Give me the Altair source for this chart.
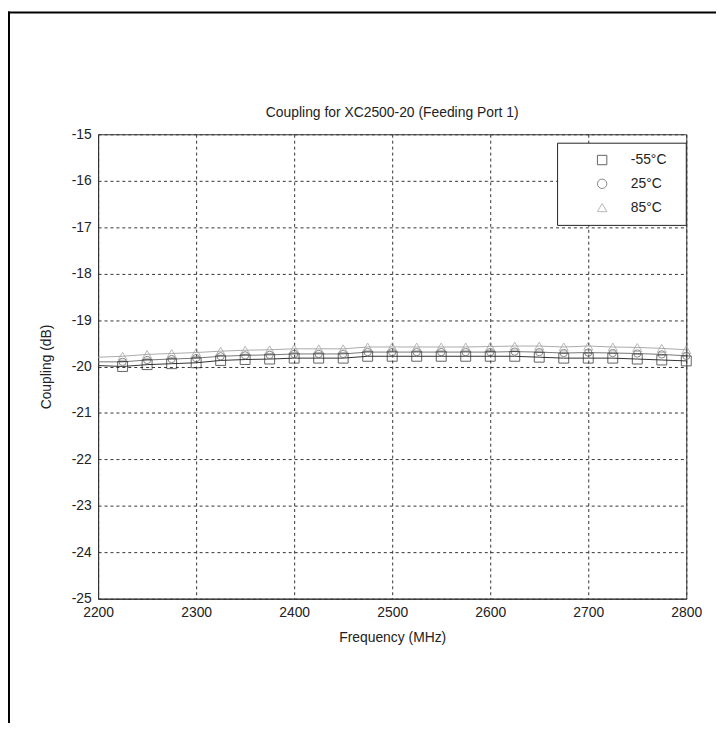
import altair as alt
import pandas as pd

# ---------------- data ----------------
freq = [2200, 2225, 2250, 2275, 2300, 2325, 2350, 2375, 2400, 2425, 2450, 2475,
        2500, 2525, 2550, 2575, 2600, 2625, 2650, 2675, 2700, 2725, 2750, 2775, 2800]
coup_m55 = [-19.98, -20.00, -19.96, -19.94, -19.92, -19.87, -19.85, -19.84, -19.82,
            -19.82, -19.82, -19.78, -19.78, -19.78, -19.78, -19.78, -19.78, -19.78,
            -19.80, -19.82, -19.82, -19.82, -19.84, -19.86, -19.88]
coup_p25 = [-19.90, -19.90, -19.86, -19.84, -19.82, -19.78, -19.76, -19.75, -19.73,
            -19.73, -19.73, -19.69, -19.69, -19.69, -19.69, -19.69, -19.69, -19.68,
            -19.69, -19.71, -19.70, -19.71, -19.72, -19.74, -19.77]
coup_p85 = [-19.80, -19.78, -19.74, -19.72, -19.70, -19.67, -19.65, -19.64, -19.62,
            -19.62, -19.62, -19.58, -19.58, -19.58, -19.58, -19.58, -19.57, -19.56,
            -19.56, -19.58, -19.56, -19.58, -19.59, -19.61, -19.64]
series = ["-55°C", "25°C", "85°C"]
line_colors = ["#333333", "#777777", "#aaaaaa"]
marker_colors = ["#222222", "#555555", "#999999"]
marker_shapes = ["square", "circle", "triangle-up"]
marker_sizes = [100, 55, 85]
x_ticks = [2200, 2300, 2400, 2500, 2600, 2700, 2800]
y_ticks = [-25, -24, -23, -22, -21, -20, -19, -18, -17, -16, -15]

title_text = "Coupling for XC2500-20 (Feeding Port 1)"
x_title = "Frequency (MHz)"
y_title = "Coupling (dB)"

rows = []
for name, vals in zip(series, [coup_m55, coup_p25, coup_p85]):
    for f, v in zip(freq, vals):
        rows.append({"freq": f, "coupling": v, "series": name})
df = pd.DataFrame(rows)
markers = df[df["freq"] > 2200]

FONT = "Liberation Sans"
TXT = "#222222"

x_enc = alt.X("freq:Q",
              scale=alt.Scale(domain=[2200, 2800], nice=False, zero=False),
              axis=alt.Axis(values=x_ticks, title=x_title, labelExpr="'' + datum.value"))
y_enc = alt.Y("coupling:Q",
              scale=alt.Scale(domain=[-25, -15], nice=False, zero=False),
              axis=alt.Axis(values=y_ticks, title=y_title, labelExpr="'' + datum.value"))

leg = alt.Legend(title=None, orient="none", legendX=464, legendY=11,
                 padding=8, rowPadding=10, symbolOffset=30, labelOffset=22,
                 symbolSize=90, symbolStrokeWidth=1,
                 labelFont=FONT, labelFontSize=14, labelColor=TXT)
color_enc = alt.Color("series:N", scale=alt.Scale(domain=series, range=marker_colors), legend=leg)
shape_enc = alt.Shape("series:N", scale=alt.Scale(domain=series, range=marker_shapes), legend=leg)

line_layers = []
point_layers = []
for name, lc, ms in zip(series, line_colors, marker_sizes):
    line_layers.append(
        alt.Chart(df).transform_filter(alt.datum.series == name)
        .mark_line(strokeWidth=1, color=lc).encode(x=x_enc, y=y_enc)
    )
    point_layers.append(
        alt.Chart(markers).transform_filter(alt.datum.series == name)
        .mark_point(filled=False, strokeWidth=1, size=ms)
        .encode(x=x_enc, y=y_enc, color=color_enc, shape=shape_enc)
    )

one = alt.Data(values=[{"k": 1}])
legend_box = alt.Chart(one).mark_rect(fill="white", stroke="#222222", strokeWidth=1).encode(
    x=alt.value(464), x2=alt.value(594), y=alt.value(9), y2=alt.value(92))
frame_left = alt.Chart(one).mark_rule(color="black", strokeWidth=2).encode(
    x=alt.value(-90), y=alt.value(-124), y2=alt.value(600))
frame_top = alt.Chart(one).mark_rule(color="black", strokeWidth=2).encode(
    x=alt.value(-91), x2=alt.value(640), y=alt.value(-123))

chart = alt.layer(frame_left, frame_top, *line_layers, *point_layers, legend_box).properties(
    width=594, height=469,
    title=alt.TitleParams(title_text, font=FONT, fontSize=14, fontWeight="normal",
                          color=TXT, offset=12, dy=134, anchor="middle",
                          baseline="alphabetic"),
    autosize=alt.AutoSizeParams(type="none"),
    padding={"left": 91, "top": 124, "right": 30, "bottom": 122},
).resolve_scale(
    color="shared", shape="shared"
).configure_view(
    stroke="#333333", strokeWidth=1
).configure_axis(
    labelFont=FONT, labelFontSize=14, labelColor=TXT,
    titleFont=FONT, titleFontSize=14, titleFontWeight="normal", titleColor=TXT,
    domainColor="#333333", domainWidth=1,
    ticks=False,
    grid=True, gridColor="#333333", gridDash=[3, 3], gridOpacity=1, gridWidth=1,
    labelFlush=False, labelOverlap=False,
).configure_axisX(
    labelPadding=7, titlePadding=11
).configure_axisY(
    labelPadding=7, titlePadding=18
)

chart.save("out.html", embed_options={"renderer": "svg", "actions": False})
